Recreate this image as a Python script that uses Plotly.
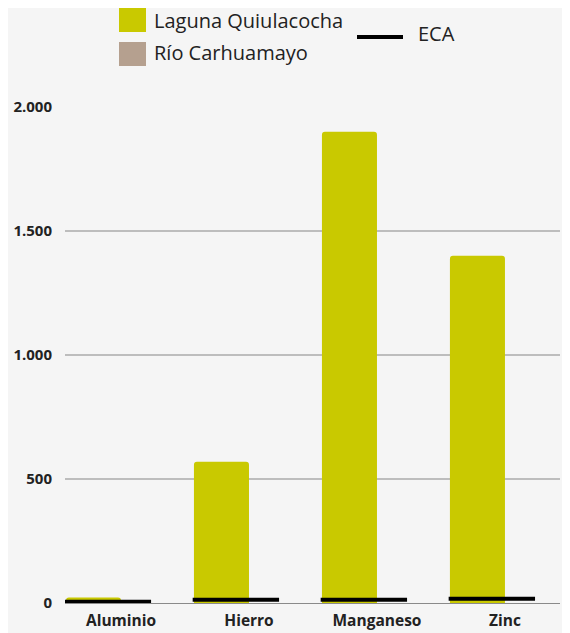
import plotly.graph_objects as go

# Datos (mg/L aprox.)
metales = ['Aluminio', 'Hierro', 'Manganeso', 'Zinc']
laguna_quiulacocha = [22, 570, 1900, 1400]
rio_carhuamayo = [0, 0, 0, 0]
eca = [5, 13, 13, 17]

COLOR_LAGUNA = '#c9c900'
COLOR_RIO = '#b5a08f'
FONDO = '#f5f5f5'

# la página tiene 8px de margen en el body
OFF = 8
W, H = 570 - OFF, 633 - OFF
L, R, T, B = 65 - OFF, 10, 107 - OFF, 30

def px_x(p):
    return (p - OFF - L) / (W - L - R)

def px_y(p):
    return (H - B - (p - OFF)) / (H - T - B)

pos = list(range(len(metales)))

fig = go.Figure()

fig.add_trace(go.Bar(
    x=pos, y=laguna_quiulacocha, name='Laguna Quiulacocha',
    marker=dict(color=COLOR_LAGUNA, line=dict(width=0)),
    offset=-0.43, width=0.43,
))
fig.add_trace(go.Bar(
    x=pos, y=rio_carhuamayo, name='Río Carhuamayo',
    marker=dict(color=COLOR_RIO, line=dict(width=0)),
    offset=0.0, width=0.43,
))

# ECA como segmentos horizontales sobre cada grupo
eca_x, eca_y = [], []
for i, v in zip(pos, eca):
    eca_x += [i - 0.44, i + 0.235, None]
    eca_y += [v, v, None]
fig.add_trace(go.Scatter(
    x=eca_x, y=eca_y, mode='lines', name='ECA',
    line=dict(color='black', width=4), connectgaps=False,
))

fig.update_layout(
    width=W, height=H,
    margin=dict(l=L, r=R, t=T, b=B),
    paper_bgcolor=FONDO, plot_bgcolor=FONDO,
    font=dict(family='Open Sans', color='#222'),
    separators=',.',
    showlegend=False,
    barcornerradius=3,
    xaxis=dict(
        range=[-0.4375, 3.43],
        tickvals=pos, ticktext=metales,
        tickfont=dict(size=15.5, family='Open Sans', weight='bold', color='#222'),
        showgrid=False, zeroline=False, showline=False, ticks='',
        ticklabelstandoff=6, automargin=False,
    ),
    yaxis=dict(
        range=[0, 2000],
        tickvals=[0, 500, 1000, 1500, 2000],
        tickformat=',d',
        tickfont=dict(size=15, family='Open Sans', weight='bold', color='#222'),
        gridcolor='#bdbdbd', gridwidth=2,
        zeroline=True, zerolinecolor='#8a8a8a', zerolinewidth=1,
        showline=False, ticks='', ticklabelstandoff=12, automargin=False,
    ),
)

# Leyenda
shapes = [
    dict(type='rect', xref='paper', yref='paper',
         x0=px_x(119), x1=px_x(146), y0=px_y(32), y1=px_y(8),
         fillcolor=COLOR_LAGUNA, line=dict(width=0)),
    dict(type='rect', xref='paper', yref='paper',
         x0=px_x(119), x1=px_x(146), y0=px_y(66), y1=px_y(42),
         fillcolor=COLOR_RIO, line=dict(width=0)),
    dict(type='line', xref='paper', yref='paper',
         x0=px_x(357), x1=px_x(403), y0=px_y(37), y1=px_y(37),
         line=dict(color='black', width=4)),
]
ann = [
    dict(text='Laguna Quiulacocha', x=px_x(152), y=px_y(20)),
    dict(text='Río Carhuamayo', x=px_x(152), y=px_y(52)),
    dict(text='ECA', x=px_x(416), y=px_y(34)),
]
fig.update_layout(shapes=shapes)
for a in ann:
    fig.add_annotation(xref='paper', yref='paper', xanchor='left', yanchor='middle',
                       showarrow=False, font=dict(size=20, color='#222'), **a)

fig.write_html('out.html')
